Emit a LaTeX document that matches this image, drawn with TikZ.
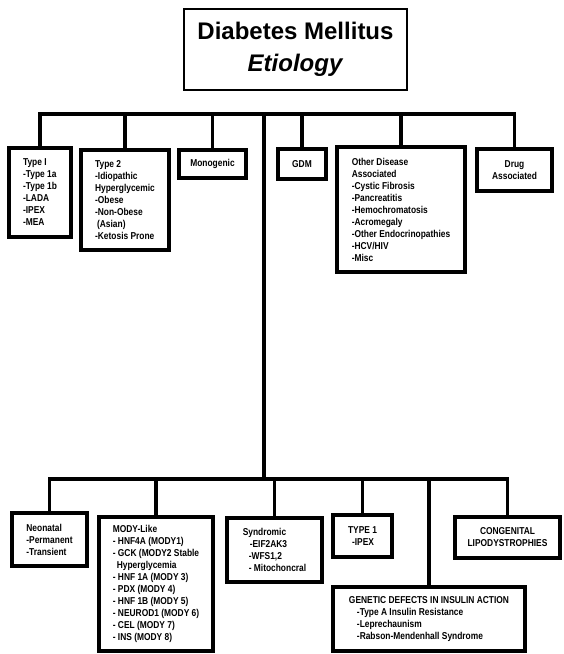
\documentclass[tikz,border=0pt]{standalone}
\usepackage{fontspec}
\usepackage{tikz}
\usepackage{xcolor}
\setmainfont{Liberation Sans}
\newfontfamily\narrowfont{Liberation Sans}[FakeStretch=0.84]

\begin{document}
\begin{tikzpicture}[x=1pt,y=-1pt,
  ebox/.style={draw=black,line width=3.4pt,align=left,inner sep=0pt,
    font=\narrowfont\bfseries\fontsize{10}{12}\selectfont},
  cbox/.style={ebox,align=center},
  conn/.style={-,black,line width=3.4pt}]
\useasboundingbox (0,0) rectangle (563,654);
\node (title) at (295.5,49.5) [draw=black,line width=2pt,align=center,minimum width=223,minimum height=81,font=\bfseries\fontsize{24}{32}\selectfont]{Diabetes Mellitus\\\textit{Etiology}};
% upper row
\node (type1) at (40,192.5) [ebox,minimum width=62,minimum height=89]{Type I\\-Type 1a\\-Type 1b\\-LADA\\-IPEX\\-MEA};
\node (type2) at (125,200) [ebox,minimum width=88,minimum height=100]{Type 2\\-Idiopathic\\Hyperglycemic\\-Obese\\-Non-Obese\\\hspace*{2pt}(Asian)\\-Ketosis Prone};
\node (mono) at (212.5,164) [cbox,minimum width=67,minimum height=28]{Monogenic};
\node (gdm) at (302,164) [cbox,minimum width=48,minimum height=30]{GDM};
\node (other) at (401,209.5) [ebox,minimum width=128,minimum height=125]{Other Disease\\Associated\\-Cystic Fibrosis\\-Pancreatitis\\-Hemochromatosis\\-Acromegaly\\-Other Endocrinopathies\\-HCV/HIV\\-Misc};
\node (drug) at (514.5,170) [cbox,minimum width=75,minimum height=42]{Drug\\Associated};
% lower row
\node (neonatal) at (49.5,539.5) [ebox,minimum width=75,minimum height=53]{Neonatal\\-Permanent\\-Transient};
\node (mody) at (156,584) [ebox,minimum width=114,minimum height=134]{MODY-Like\\- HNF4A (MODY1)\\- GCK (MODY2 Stable\\\hspace*{4pt}Hyperglycemia\\- HNF 1A (MODY 3)\\- PDX (MODY 4)\\- HNF 1B (MODY 5)\\- NEUROD1 (MODY 6)\\- CEL (MODY 7)\\- INS (MODY 8)};
\node (synd) at (274.5,550) [ebox,minimum width=95,minimum height=64]{Syndromic\\\hspace*{7pt}-EIF2AK3\\\hspace*{6pt}-WFS1,2\\\hspace*{6pt}- Mitochoncral};
\node (typeone) at (362.5,536) [ebox,minimum width=59,minimum height=42]{TYPE 1\\\hspace*{4pt}-IPEX};
\node (congen) at (507.5,537.5) [cbox,minimum width=105,minimum height=41]{CONGENITAL\\LIPODYSTROPHIES};
\node (genetic) at (429,619) [ebox,minimum width=192,minimum height=64]{GENETIC DEFECTS IN INSULIN ACTION\\\hspace*{8pt}-Type A Insulin Resistance\\\hspace*{8pt}-Leprechaunism\\\hspace*{8pt}-Rabson-Mendenhall Syndrome};
% tree
\coordinate (topbar) at (264,114);
\coordinate (botbar) at (264,479);
\draw[conn] (type1.north) |- (topbar) -| (drug.north);
\foreach \n in {type2,mono,gdm,other}
  \draw[conn] (\n.north) -- (\n.north |- topbar);
\draw[conn] (topbar) -- (botbar);
\draw[conn] (neonatal.north) |- (botbar) -| (congen.north);
\foreach \n in {mody,synd,typeone,genetic}
  \draw[conn] (\n.north) -- (\n.north |- botbar);
\end{tikzpicture}
\end{document}
